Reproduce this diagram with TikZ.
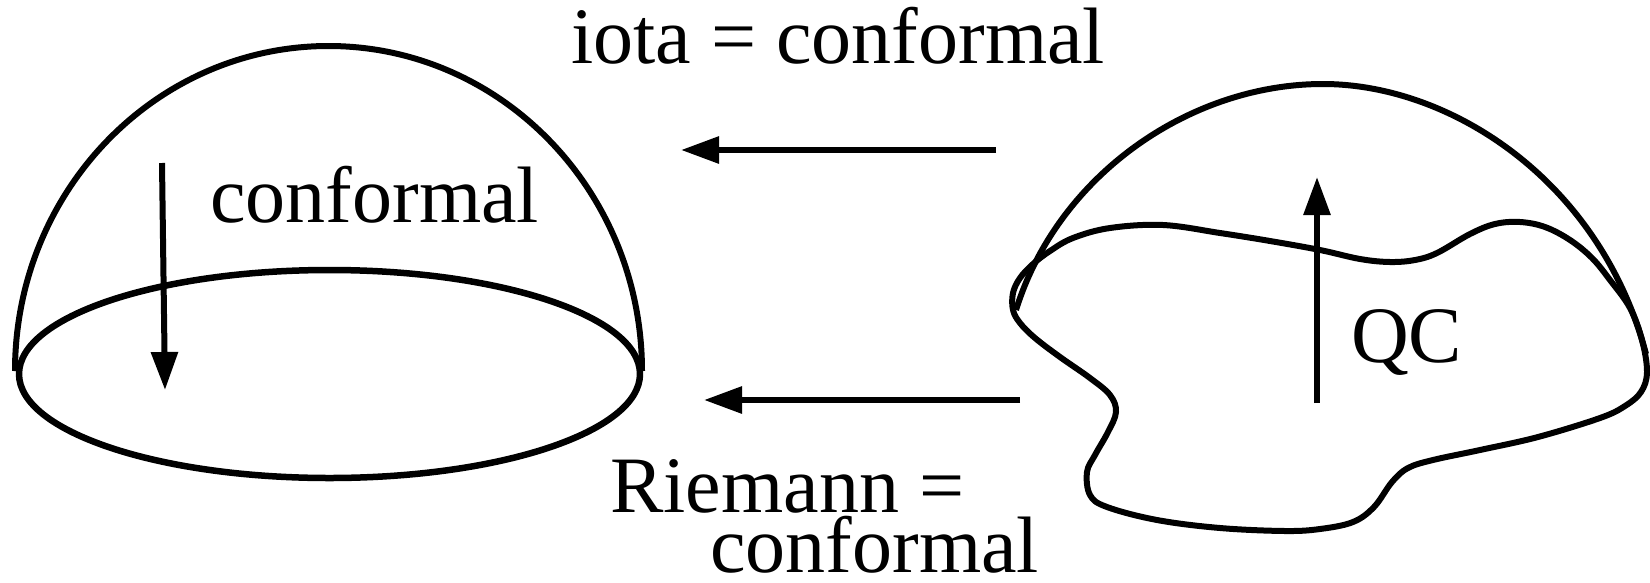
\documentclass[tikz,border=0pt]{standalone}
\usepackage{fontspec}
\setmainfont{Liberation Serif}
\usetikzlibrary{arrows.meta}
\begin{document}
\begin{tikzpicture}[x=1pt,y=-1pt,
  outline/.style={line width=6pt, line join=round},
  maparrow/.style={line width=6pt, -{Triangle[length=38pt,width=26pt]}},
  lbl/.style={anchor=base west, inner sep=0pt, font=\fontsize{80}{60}\selectfont}]
\useasboundingbox (0,0) rectangle (1650,582);
% left hemisphere
\draw[outline] (15,371) arc[start angle=180, end angle=360, x radius=313.5, y radius=325];
\draw[outline, line width=6.5pt] (329.5,374) ellipse[x radius=310.5, y radius=104];
\coordinate (la1) at (162,163);
\coordinate (la2) at (165,390);
\draw[maparrow] (la1) -- (la2);
\node[lbl] (lconf) at (210,222) {conformal};
% right shape
\draw[outline] (1016,310) .. controls (1058,175) and (1190,84) .. (1323,84)
  .. controls (1450,84) and (1600,180) .. (1646,354);
\draw[outline] plot[smooth cycle, tension=0.6] coordinates {
 (1013,293) (1020,278) (1033,264) (1050,251) (1073,238) (1110,228) (1163,225)
 (1220,233) (1270,241) (1320,250) (1360,259) (1390,262) (1415,260) (1437,253)
 (1470,234) (1495,224) (1520,222) (1545,227) (1570,240) (1592,258) (1610,280)
 (1630,308) (1642,340) (1647,372) (1641,392) (1625,406) (1600,418) (1538,437)
 (1480,450) (1433,460) (1408,468) (1392,482) (1374,507) (1353,522) (1320,529)
 (1285,531) (1220,528) (1157,520) (1107,507) (1090,495) (1087,472) (1095,455)
 (1108,432) (1116,412) (1110,395) (1090,378) (1060,357) (1035,338) (1020,323)
 (1013,310)};
\coordinate (qc1) at (1317,403);
\coordinate (qc2) at (1317,177);
\draw[maparrow] (qc1) -- (qc2);
\node[lbl] (qc) at (1351,362) {QC};
% middle arrows
\coordinate (ta1) at (996,150);
\coordinate (ta2) at (681,150);
\draw[maparrow] (ta1) -- (ta2);
\node[lbl] (iota) at (571,63) {iota = conformal};
\coordinate (ba1) at (1020,400);
\coordinate (ba2) at (704,400);
\draw[maparrow] (ba1) -- (ba2);
\node[lbl] (riem) at (610,512) {Riemann =};
\node[lbl] (riem2) at (710,572) {conformal};
\end{tikzpicture}
\end{document}
